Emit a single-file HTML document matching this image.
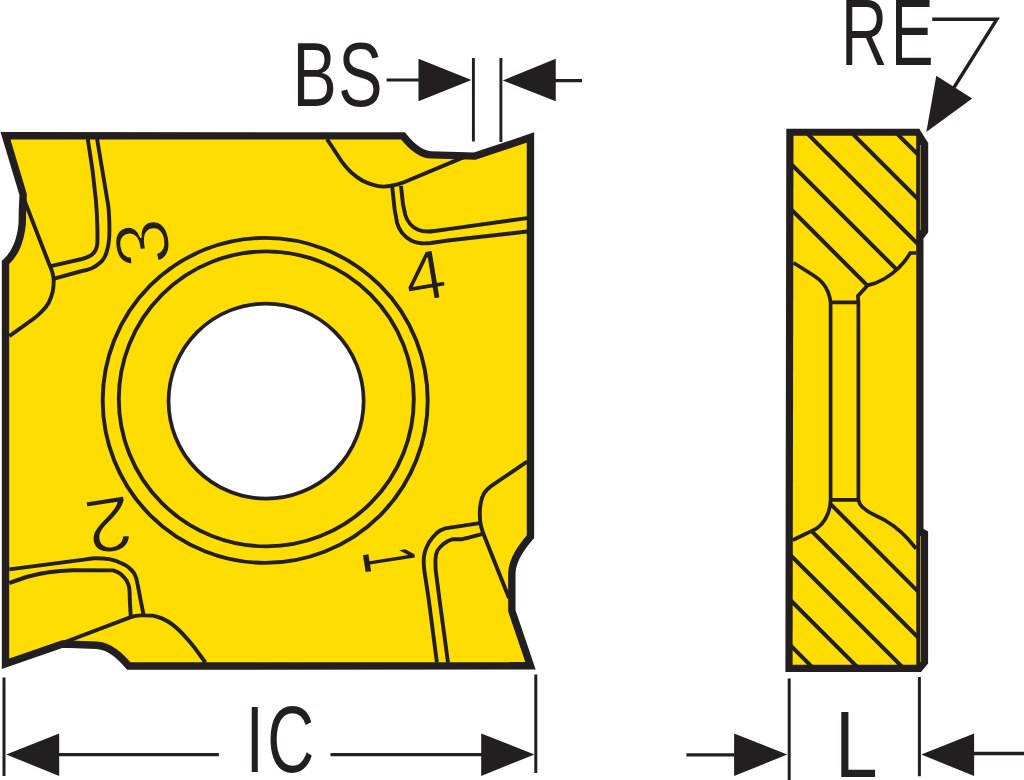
<!DOCTYPE html>
<html>
<head>
<meta charset="utf-8">
<title>Insert dimensions: BS, RE, IC, L</title>
<style>
html,body{margin:0;padding:0;background:#fff;}
body{width:1024px;height:780px;overflow:hidden;}
svg{display:block;}
text{font-family:"Liberation Sans",sans-serif;fill:#231f20;}
</style>
</head>
<body>
<svg width="1024" height="780" viewBox="0 0 1024 780">
<rect width="1024" height="780" fill="#fff"/>
<g fill="none" stroke="#231f20" stroke-linecap="butt" stroke-linejoin="miter" stroke-miterlimit="10">

<!-- ===== FRONT VIEW ===== -->
<path id="outline" fill="#ffdd00" stroke-width="7.4" d="M5.5,135.7 L403,135.9 C411,146 420,154.500 431,154.9 L475,156.1 L530.45,137.5 L530.45,536.6 C525,543 519,551 516,557.500 C513.500,563 512,568 511.85,573 L511.85,611 L530.5,665.8 L128.8,666 C121,657 111,646.500 97,645.3 L62.5,644 L5.5,663.7 L5.5,262.5 C10,258.500 14.500,252 17,246 C19.500,240 21.300,233 22.2,224 L22.5,209 L23.2,194.6 Z"/>

<!-- circles -->
<circle cx="265.2" cy="400.4" r="162.5" stroke-width="3.9"/>
<circle cx="266.3" cy="398.9" r="147.5" stroke-width="3.9"/>
<circle cx="266.1" cy="401.1" r="97.55" stroke-width="3.7" fill="#fff"/>

<g stroke-width="3.9">
<!-- top-right corner -->
<path d="M327.1,139.3 L342.2,162.2 C347,169 354,176 362.7,180.8 C370,184.500 377,186.400 383.2,186.6 C390,186.600 397,184.800 402.8,182.7 L460.3,158.6 L466,156.4"/>
<path d="M392.2,186.8 L394.6,209.3 L397.1,223 C399,230 404,236.500 411.25,240.5 C416,243 424,243.800 430.8,243 L450,240.3 L527.1,231.5"/>
<path d="M401,185.9 L403,204.4 L405.4,215.2 C407,221 412,227 418.1,229.8 C423,231.800 429,231.800 434.7,231 L450,228.9 L527.1,218.1"/>
<!-- top-left corner -->
<path d="M24.3,200 L49.3,264.4 C52.300,271 53.700,276 53.7,281 C53.700,285 53.300,288.500 52.7,291.7 C51.800,295.500 50.500,299 48.8,302.5 C47,305.800 44.500,308.800 42,311.25 C39.500,314 36.500,316.500 33.2,319 L9.3,336.2"/>
<path d="M97.1,139 L108.3,206 C109.200,214 109.500,224 109.4,233.4 C109.200,239 108.700,244 107.8,247.5 C107,251 106,254.500 104.7,256.9 C103.300,259.500 101.800,261.500 100,262.8 C97.500,265 95,266.800 91.8,268.3 C88.500,269.700 85,270.500 81,271.25 L54.2,278.6"/>
<path d="M87.8,139 L92.5,170 L95.8,199.3 C96.600,208 97.100,217 97.3,225 C97.500,232 97.500,238 97.4,243 C97.200,246 96.700,248 95.7,249.8 C94.500,252.300 92.500,254.500 89.8,256.1 C87.500,257.300 85,258.200 82,259 L50.8,266.2"/>
<!-- bottom-left corner -->
<path d="M62.5,643 L130.8,617.1 C135,615.600 139,615.200 142.9,615.4 L152.7,615.6 C156,616.200 159.500,617.300 162.5,618.6 C166,620.200 169.500,622.300 172.2,624.4 C176,627.300 179,630 182,633.2 C186.500,638 190.500,642.500 194.7,647.9 L205.4,662.5"/>
<path d="M9.3,569.4 L84,559.6 C88,558.800 91,558.300 94.6,558.2 C100,558.100 105,558.500 109.3,559.2 C114,560.200 118,561.500 121,563.1 C124,564.500 127,566 128.8,567.5 C131.500,570 133.500,572 134.7,574.3 C136.300,577.500 137.100,581 137.6,584.1 L140.5,599.7 L143.5,614.3"/>
<path d="M9.3,583.1 C16,580.500 22,578.300 29.3,576.25 C36,574.500 42,573.300 48.8,572.3 C57,571.200 65,570.600 73.2,570.2 L113.2,570.4 C116,571.200 119,572.700 121,574.3 C123.500,576.500 125.500,578.800 126.9,581.1 C128.200,583.500 129,586 129.3,588 C129.700,592 129.800,596 129.8,599.7 L130.8,617.3"/>
<!-- bottom-right corner -->
<path d="M527.1,461.7 L491,486.1 C488,488.300 486,490.500 484.2,493 C482.500,496 481.500,499 480.8,502.7 C480.200,506 479.900,509 479.8,512.5 C479.800,516 480,519.500 480.3,522.6 C481,526.500 482,530 483.2,533.3 L505.9,590.3 L509,598"/>
<path d="M479.8,523.1 L445.2,528.4 C441.500,529.500 438.500,531.500 436.4,533.3 C433,536.500 430.500,540 428.6,543.1 C426.500,547 425.200,550 424.6,552.9 C423.800,556.500 423.600,559.500 423.7,562.6 C423.800,566 424.100,569 424.6,572.4 L428.8,600 L436.9,662.5"/>
<path d="M482.75,533.8 L468.6,537.7 C465,538.600 463,539.100 461.8,539.2 L453,539.2 C449,540 446,542 443.2,544.1 C440.500,546.500 438.500,548.800 437.3,550.9 C436,553.500 435.500,556.500 435.4,559.7 L435.6,569.5 L439.55,600 L448,662.5"/>
</g>

<!-- stamped numbers -->
</g>
<g fill="#231f20" stroke="none" stroke-linejoin="round">
<text transform="translate(424.8,276.0) rotate(-9.5) scale(0.7382,0.7006) translate(-27.49,34.40)" font-size="100" stroke="#ffdd00" stroke-width="1.67">4</text>
<text transform="translate(142.4,243.3) rotate(-99) scale(0.8458,0.7571) translate(-27.51,34.42)" font-size="100" stroke="#ffdd00" stroke-width="2.00">3</text>
<text transform="translate(109.0,525.2) rotate(171) scale(0.8473,0.7719) translate(-27.81,34.91)" font-size="100" stroke="#ffdd00" stroke-width="1.98">2</text>
<text transform="translate(389.4,559.6) rotate(81) scale(0.3943,0.7413) translate(-29.17,34.40)" font-size="100">1</text>
</g>
<!-- ===== SIDE VIEW ===== -->
<defs>
<clipPath id="hu"><path d="M789,131 L920,131 L920,253 L910.3,253 C905,262 896,272 884,279 C878,282.500 872,284.500 867.6,285.4 L857.9,295.9 L858.4,302.4 L830.6,302.4 C830.300,299.500 829.500,296 828,292 C825.500,285.500 820.500,280 814,275.8 L803.4,269 L793.5,262.8 L789,260 Z"/></clipPath>
<clipPath id="hl"><path d="M789,542.2 L792.8,540.2 C802,535.500 811,531.500 817.5,527.9 C825,522 830,514 830.6,499.8 L857.9,499.8 C859,503 860.500,505.200 862.5,507.2 C866,510.500 870,513 875,515.3 C882,518.300 888,521.800 894,526.2 C899,530 904,534.500 908,539 L916.2,548.8 L920,553.4 L920,669 L789,669 Z"/></clipPath>
</defs>
<path fill="#231f20" d="M786.3,128.8 L919.3,128.8 L928.2,143 L928.2,232.2 L923.5,238.6 L923.5,528.8 L928.1,531.4 L928.1,663.5 L921,671.9 L785.4,671.9 Z"/>
<path d="M793.5,135.7 L916.2,135.7 L916.3,664.7 L792.6,664.7 Z" fill="#ffdd00"/>
<g fill="none" stroke="#231f20" stroke-width="4">
<g clip-path="url(#hu)">
<path d="M883.3,120 L1093.3,330 M838.8,120 L1048.8,330 M793.8,120 L1003.8,330 M747.1,120 L957.1,330 M701.8,120 L911.8,330"/>
</g>
<g clip-path="url(#hl)">
<path d="M806.5,480 L1016.5,690 M760.6,480 L970.6,690 M715.3,480 L925.3,690 M670.3,480 L880.3,690 M625.1,480 L835.1,690"/>
</g>
</g>
<g fill="none" stroke="#231f20" stroke-width="3.7">
<path d="M793.5,262.8 L803.4,269 L814,275.800 C820.500,280 825.500,285.500 828,292 C829.500,296 830.300,299.500 830.6,302.4 L830.6,499.8 C830,514 825,522 817.5,527.9 C811,531.500 802,535.500 792.8,540.2"/>
<path d="M916.2,253 L910.3,253 C905,262 896,272 884,279 C878,282.500 872,284.500 867.6,285.4 L857.9,295.9 L858.4,302.4 L858.4,499.8 C859,503 860.500,505.200 862.5,507.2 C866,510.500 870,513 875,515.3 C882,518.300 888,521.800 894,526.2 C899,530 904,534.500 908,539 L916.2,548.8"/>
<path d="M830.6,302.4 L858.4,302.4 M830.6,499.8 L858.4,499.8"/>
</g>
<path d="M920.4,145 L920.4,230 M920.5,536 L920.5,662" stroke="#c4ab2c" stroke-width="0.8" fill="none"/>

<!-- ===== DIMENSIONS ===== -->
<g fill="none" stroke="#231f20">
<path stroke-width="3.2" d="M386.6,80 L420,80 M555,80.6 L582,80.6"/>
<path stroke-width="2.9" d="M473.4,58 L473.4,141.5 M500.9,58 L500.9,142"/>
<path stroke-width="3.4" stroke-linejoin="miter" d="M932.2,19.2 L996.9,19.2 L954,87.5"/>
<path stroke-width="3.3" d="M59,754.7 L218.8,754.7 M330.5,754.7 L483,754.7 M686.4,754.9 L736,754.9 M973,753.5 L1024,753.5"/>
<path stroke-width="3" d="M4,677.6 L4,776 M535.8,674.4 L535.8,772.9 M789.2,678.5 L789.2,780 M919.4,676.9 L919.4,776.2"/>
</g>
<g fill="#231f20" stroke="none">
<polygon points="418.5,58.75 418.5,101.25 471.5,80"/>
<polygon points="555.75,58.75 555.75,101.25 502.75,80.5"/>
<polygon points="926.3,132 936.3,75.8 972.2,98.5"/>
<polygon points="6.2,754.5 59.2,733.4 59.2,775.9"/>
<polygon points="534.4,754.5 481.2,733.4 481.2,775.9"/>
<polygon points="787.2,754.6 734.1,733.4 734.1,775.9"/>
<polygon points="921.3,754.6 974.1,733.4 974.1,775.9"/>
</g>

<!-- ===== TEXT ===== -->
<text transform="translate(292.45,106.2) scale(0.664,0.9099)" font-size="100" letter-spacing="2.32">BS</text>
<text transform="translate(841.03,64.8) scale(0.643,0.9419)" font-size="100" letter-spacing="5.15">RE</text>
<text transform="translate(245.82,771.6) scale(0.65,0.9419)" font-size="100" letter-spacing="5.13">IC</text>
<text transform="translate(835.01,776.9) scale(0.7666,0.9419)" font-size="100">L</text>
</svg>
</body>
</html>
